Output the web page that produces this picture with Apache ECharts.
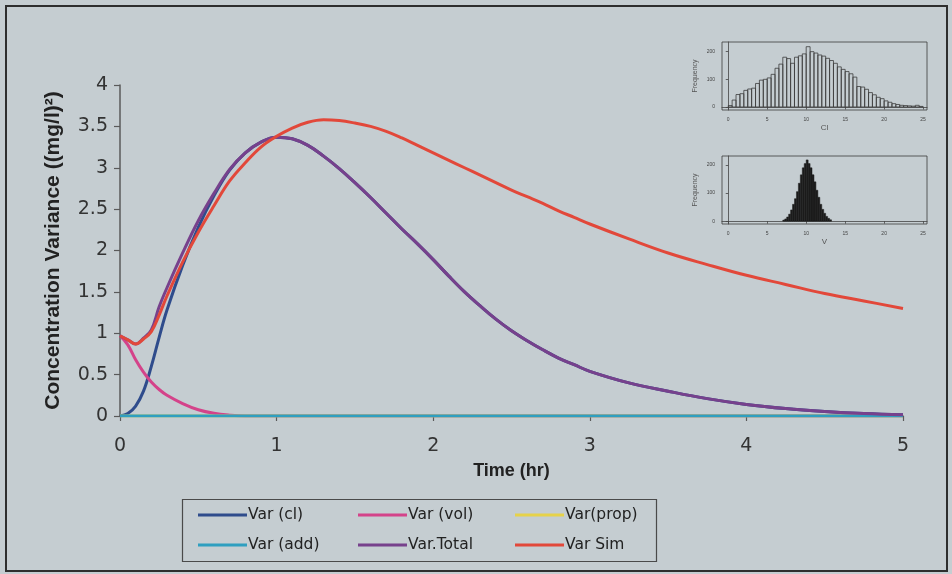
<!DOCTYPE html>
<html>
<head>
<meta charset="utf-8">
<script src="https://cdn.jsdelivr.net/npm/echarts@6/dist/echarts.min.js"></script>
<style>
  html, body { margin: 0; padding: 0; background: #c5cdd1; }
  #chart { width: 952px; height: 574px; }
</style>
</head>
<body>
<div id="chart"></div>
<script>
// Time points (hr)
const timeHr = [0, 0.05, 0.1, 0.15, 0.2, 0.25, 0.3, 0.4, 0.5, 0.6, 0.7, 0.8, 0.9, 1.0, 1.1, 1.2, 1.3, 1.4, 1.5, 1.6, 1.7, 1.8, 1.9, 2.0, 2.1, 2.2, 2.3, 2.4, 2.5, 2.6, 2.7, 2.8, 2.9, 3.0, 3.25, 3.5, 3.75, 4.0, 4.25, 4.5, 4.75, 5.0];

// Variance components ((mg/l)^2)
const varCl    = [0, 0.03, 0.12, 0.30, 0.60, 0.95, 1.28, 1.82, 2.28, 2.66, 2.97, 3.18, 3.31, 3.37, 3.35, 3.27, 3.14, 2.99, 2.82, 2.64, 2.45, 2.26, 2.08, 1.89, 1.69, 1.50, 1.33, 1.17, 1.03, 0.91, 0.80, 0.70, 0.62, 0.54, 0.40, 0.30, 0.21, 0.14, 0.09, 0.055, 0.03, 0.015];
const varVol   = [0.97, 0.86, 0.68, 0.53, 0.41, 0.32, 0.25, 0.15, 0.075, 0.032, 0.01, 0, 0, 0, 0, 0, 0, 0, 0, 0, 0, 0, 0, 0, 0, 0, 0, 0, 0, 0, 0, 0, 0, 0, 0, 0, 0, 0, 0, 0, 0, 0];
const varProp  = [0, 0, 0, 0, 0, 0, 0, 0, 0, 0, 0, 0, 0, 0, 0, 0, 0, 0, 0, 0, 0, 0, 0, 0, 0, 0, 0, 0, 0, 0, 0, 0, 0, 0, 0, 0, 0, 0, 0, 0, 0, 0];
const varAdd   = [0, 0, 0, 0, 0, 0, 0, 0, 0, 0, 0, 0, 0, 0, 0, 0, 0, 0, 0, 0, 0, 0, 0, 0, 0, 0, 0, 0, 0, 0, 0, 0, 0, 0, 0, 0, 0, 0, 0, 0, 0, 0];
const varTotal = [0.97, 0.92, 0.87, 0.94, 1.04, 1.32, 1.55, 1.97, 2.36, 2.69, 2.98, 3.18, 3.31, 3.37, 3.35, 3.27, 3.14, 2.99, 2.82, 2.64, 2.45, 2.26, 2.08, 1.89, 1.69, 1.50, 1.33, 1.17, 1.03, 0.91, 0.80, 0.70, 0.62, 0.54, 0.40, 0.30, 0.21, 0.14, 0.09, 0.055, 0.03, 0.015];
const varSim   = [0.97, 0.92, 0.87, 0.93, 1.02, 1.22, 1.45, 1.86, 2.22, 2.54, 2.84, 3.06, 3.25, 3.38, 3.48, 3.55, 3.58, 3.57, 3.54, 3.50, 3.44, 3.36, 3.27, 3.18, 3.09, 3.00, 2.91, 2.82, 2.73, 2.65, 2.57, 2.48, 2.40, 2.32, 2.14, 1.97, 1.83, 1.70, 1.59, 1.48, 1.39, 1.30];

const seriesNames = ['Var (cl)', 'Var (vol)', 'Var(prop)', 'Var (add)', 'Var.Total', 'Var Sim'];
const seriesColors = ['#2f4c8c', '#d4438a', '#e6d24a', '#2f9fc0', '#77418c', '#e2483a'];

// Inset histogram of simulated Cl
const clBinStart = 0;
const clBinWidth = 0.5;
const clFreq = [5, 25, 45, 48, 60, 65, 68, 85, 97, 100, 105, 118, 140, 155, 180, 175, 158, 180, 185, 192, 218, 200, 195, 188, 184, 176, 168, 158, 145, 136, 128, 120, 108, 74, 72, 64, 52, 44, 35, 30, 22, 17, 12, 9, 6, 5, 4, 3, 6, 2];

// Inset histogram of simulated V
const vBinStart = 7.0;
const vBinWidth = 0.25;
const vFreq = [4, 8, 15, 25, 40, 60, 80, 105, 135, 165, 190, 205, 218, 205, 190, 165, 140, 110, 85, 60, 42, 28, 17, 10, 5];

const histTicksX = [0, 5, 10, 15, 20, 25];
const histTicksY = [0, 100, 200];

const FONT = 'Liberation Sans, Arial, sans-serif';
const WIDE_FONT = 'DejaVu Sans, Liberation Sans, sans-serif';

const chart = echarts.init(document.getElementById('chart'), null, { renderer: 'canvas' });

function histSeries(freq, start, width, axisIdx, filled) {
  return {
    type: 'custom',
    xAxisIndex: axisIdx,
    yAxisIndex: axisIdx,
    silent: true,
    encode: { x: [0, 1], y: 2 },
    data: freq.map((f, i) => [start + i * width, start + (i + 1) * width, f]),
    renderItem(params, api) {
      const p0 = api.coord([api.value(0), 0]);
      const p1 = api.coord([api.value(1), api.value(2)]);
      return {
        type: 'rect',
        shape: { x: p0[0], y: p1[1], width: p1[0] - p0[0], height: p0[1] - p1[1] },
        style: filled
          ? { fill: '#1c1c1c', stroke: '#1c1c1c', lineWidth: 0.5 }
          : { fill: 'rgba(0,0,0,0)', stroke: '#3c3c3c', lineWidth: 0.8 }
      };
    }
  };
}

function histAxes(gridIdx, name, yMin, yMax) {
  return {
    x: {
      type: 'value', gridIndex: gridIdx, min: -0.8, max: 25.5, offset: 3,
      name: name, nameLocation: 'middle', nameGap: 11,
      nameTextStyle: { fontFamily: FONT, fontSize: 8, color: '#555' },
      axisLine: { show: true, lineStyle: { color: '#444', width: 0.8 } },
      axisTick: { show: true, length: 2.5, customValues: histTicksX, lineStyle: { color: '#444', width: 0.8 } },
      axisLabel: { show: true, customValues: histTicksX, fontSize: 5, color: '#444', margin: 4, fontFamily: FONT },
      splitLine: { show: false }
    },
    y: {
      type: 'value', gridIndex: gridIdx, min: yMin, max: yMax, offset: 3,
      name: 'Frequency', nameLocation: 'middle', nameGap: 20, nameRotate: 90,
      nameTextStyle: { fontFamily: FONT, fontSize: 7, color: '#555' },
      axisLine: { show: true, lineStyle: { color: '#444', width: 0.8 } },
      axisTick: { show: true, length: 2.5, customValues: histTicksY, lineStyle: { color: '#444', width: 0.8 } },
      axisLabel: { show: true, customValues: histTicksY, fontSize: 5, color: '#444', margin: 4, fontFamily: FONT },
      splitLine: { show: false }
    }
  };
}

const clAxes = histAxes(1, 'Cl', -11, 235);
const vAxes = histAxes(2, 'V', -10, 232);

// Legend laid out as a 3 x 2 table
const legendSlots = [
  { left: 198, top: 507 }, { left: 358, top: 507 }, { left: 515, top: 507 },
  { left: 198, top: 537 }, { left: 358, top: 537 }, { left: 515, top: 537 }
];

const option = {
  backgroundColor: '#c5cdd1',
  animation: false,
  textStyle: { fontFamily: FONT },
  graphic: [
    { type: 'rect', shape: { x: 6, y: 6, width: 941, height: 565 }, style: { fill: 'none', stroke: '#2e2e2e', lineWidth: 2 }, z: 0 },
    { type: 'rect', shape: { x: 182.5, y: 499.5, width: 474, height: 62 }, style: { fill: 'none', stroke: '#4a4a4a', lineWidth: 1.2 }, z: 0 }
  ],
  legend: seriesNames.map((n, i) => ({
    data: [n],
    left: legendSlots[i].left,
    top: legendSlots[i].top,
    padding: 0,
    icon: 'rect',
    itemWidth: 49,
    itemHeight: 3,
    selectedMode: false,
    textStyle: { fontFamily: WIDE_FONT, fontSize: 15.5, color: '#222', padding: [0, 0, 0, -4] }
  })),
  grid: [
    { left: 120, right: 49, top: 85, bottom: 158 },
    { left: 722, top: 42, width: 205, height: 68, show: true, borderColor: '#3a3a3a', borderWidth: 0.8, backgroundColor: 'rgba(0,0,0,0)' },
    { left: 722, top: 156, width: 205, height: 68, show: true, borderColor: '#3a3a3a', borderWidth: 0.8, backgroundColor: 'rgba(0,0,0,0)' }
  ],
  xAxis: [
    {
      type: 'value', gridIndex: 0, min: 0, max: 5, interval: 1,
      name: 'Time (hr)', nameLocation: 'middle', nameGap: 46,
      nameTextStyle: { fontFamily: FONT, fontSize: 18, fontWeight: 'bold', color: '#222' },
      axisLine: { show: true, onZero: false, lineStyle: { color: '#5a5a5a', width: 1.5 } },
      axisTick: { show: true, inside: false, length: 5, lineStyle: { color: '#5a5a5a', width: 1.2 } },
      axisLabel: { fontFamily: WIDE_FONT, fontSize: 19, color: '#333', margin: 21 },
      splitLine: { show: false }
    },
    clAxes.x, vAxes.x
  ],
  yAxis: [
    {
      type: 'value', gridIndex: 0, min: 0, max: 4, interval: 0.5,
      name: 'Concentration Variance ((mg/l)\u00B2)', nameLocation: 'middle', nameGap: 56,
      nameTextStyle: { fontFamily: FONT, fontSize: 21, fontWeight: 'bold', color: '#222' },
      axisLine: { show: true, lineStyle: { color: '#5a5a5a', width: 1.5 } },
      axisTick: { show: true, inside: false, length: 6, lineStyle: { color: '#5a5a5a', width: 1.2 } },
      axisLabel: { fontFamily: WIDE_FONT, fontSize: 19, color: '#333', margin: 12 },
      splitLine: { show: false }
    },
    clAxes.y, vAxes.y
  ],
  series: [
    ...[varCl, varVol, varProp, varAdd, varTotal, varSim].map((vals, i) => ({
      name: seriesNames[i],
      type: 'line',
      xAxisIndex: 0,
      yAxisIndex: 0,
      data: timeHr.map((t, j) => [t, vals[j]]),
      showSymbol: false,
      smooth: 0.4,
      color: seriesColors[i],
      lineStyle: { width: 3, color: seriesColors[i] },
      silent: true
    })),
    histSeries(clFreq, clBinStart, clBinWidth, 1, false),
    histSeries(vFreq, vBinStart, vBinWidth, 2, true)
  ]
};

chart.setOption(option);
</script>
</body>
</html>
